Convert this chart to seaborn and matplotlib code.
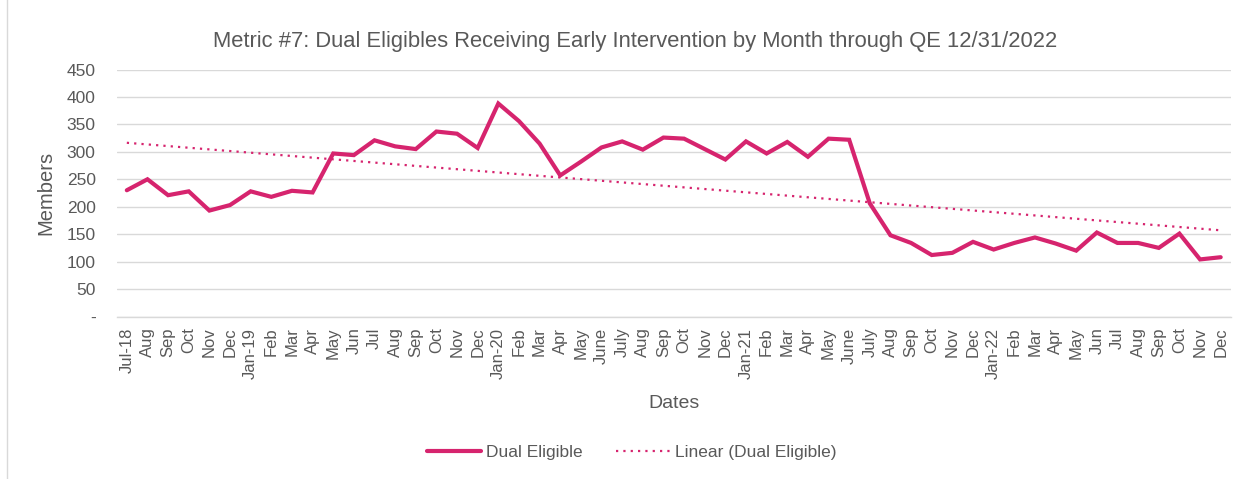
import matplotlib
matplotlib.use("Agg")
import matplotlib.pyplot as plt
from matplotlib.patches import FancyBboxPatch
import seaborn as sns
import numpy as np
import pandas as pd

# month labels as printed on the axis
months = ["Jul-18", "Aug", "Sep", "Oct", "Nov", "Dec",
          "Jan-19", "Feb", "Mar", "Apr", "May", "Jun", "Jul", "Aug", "Sep", "Oct", "Nov", "Dec",
          "Jan-20", "Feb", "Mar", "Apr", "May", "June", "July", "Aug", "Sep", "Oct", "Nov", "Dec",
          "Jan-21", "Feb", "Mar", "Apr", "May", "June", "July", "Aug", "Sep", "Oct", "Nov", "Dec",
          "Jan-22", "Feb", "Mar", "Apr", "May", "Jun", "Jul", "Aug", "Sep", "Oct", "Nov", "Dec"]

dual_eligible = [230, 250, 221, 228, 193, 203,
                 228, 218, 229, 226, 297, 294, 321, 310, 305, 337, 333, 307,
                 388, 356, 315, 257, 282, 308, 319, 304, 326, 324, 305, 286,
                 319, 297, 318, 291, 324, 322, 206, 148, 134, 112, 116, 136,
                 122, 134, 144, 133, 120, 153, 134, 134, 125, 151, 104, 108]

y_ticks = [0, 50, 100, 150, 200, 250, 300, 350, 400, 450]
y_tick_labels = ["-", "50", "100", "150", "200", "250", "300", "350", "400", "450"]

color = "#D6246E"
grey = "#595959"
grid = "#D9D9D9"

df = pd.DataFrame({"idx": np.arange(len(months)), "month": months, "members": dual_eligible})
slope, intercept = np.polyfit(df["idx"], df["members"], 1)
df["trend"] = intercept + slope * df["idx"]

sns.set_style("white")
plt.rcParams["font.family"] = ["Liberation Sans", "DejaVu Sans"]

fig = plt.figure(figsize=(12.51, 4.79), dpi=100)
ax = fig.add_axes([116.5 / 1251, 1 - 316.5 / 479, (1231 - 116.5) / 1251, (316.5 - 69.5) / 479])

# outer chart frame
fig.patches.append(FancyBboxPatch((7 / 1251, -0.05), 1.2, 1.2, boxstyle="square,pad=0",
                                  transform=fig.transFigure, facecolor="none",
                                  edgecolor="#D9D9D9", linewidth=1.0))

sns.lineplot(data=df, x="idx", y="members", ax=ax, color=color, linewidth=3.0,
             label="Dual Eligible", solid_joinstyle="miter")
sns.lineplot(data=df, x="idx", y="trend", ax=ax, color=color, linewidth=1.6,
             linestyle=(0, (1, 2.3)), label="Linear (Dual Eligible)")

n = len(months)
ax.set_xlim(-0.5, n - 0.5)
ax.set_ylim(0, 450)
ax.set_yticks(y_ticks)
ax.set_yticklabels(y_tick_labels, color=grey, fontsize=12.5)
ax.set_xticks(np.arange(n))
ax.set_xticklabels(months, rotation=90, color=grey, fontsize=12)
ax.set_xticks(np.arange(n + 1) - 0.5, minor=True)
ax.tick_params(axis="x", which="major", length=0, pad=8)
ax.tick_params(axis="x", which="minor", length=5, color=grid, width=1)
ax.tick_params(axis="y", length=0, pad=15)

ax.grid(axis="y", color=grid, linewidth=1)
ax.set_axisbelow(True)
for s in ["top", "right", "left"]:
    ax.spines[s].set_visible(False)
ax.spines["bottom"].set_color(grid)
ax.spines["bottom"].set_linewidth(1)

ax.set_xlabel("Dates", color=grey, fontsize=14, labelpad=12)
ax.set_ylabel("Members", color=grey, fontsize=14.5, labelpad=8)
fig.text(635 / 1251, 1 - 42 / 479,
         "Metric #7: Dual Eligibles Receiving Early Intervention by Month through QE 12/31/2022",
         color=grey, fontsize=15.8, ha="center", va="center")

leg = ax.legend(loc="center", bbox_to_anchor=((632 - 116.5) / 1114.5, -(452 - 316.5) / 247),
                ncol=2, frameon=False, fontsize=12.5, labelcolor=grey, handlelength=3.1,
                columnspacing=1.9, handletextpad=0.3)

fig.savefig("out.png", dpi=100)
